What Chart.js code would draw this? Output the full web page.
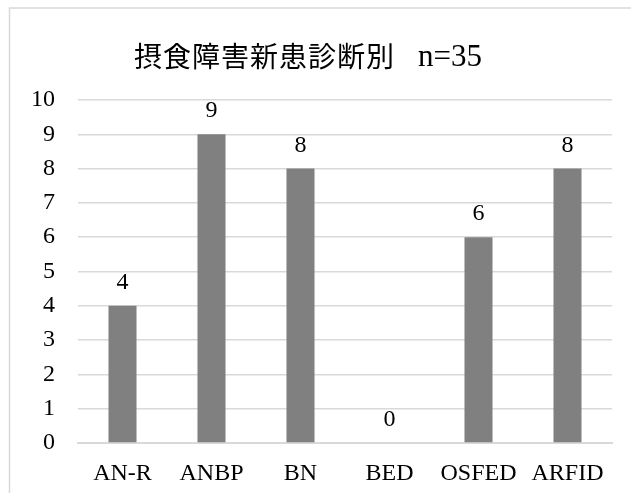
<!DOCTYPE html>
<html>
<head>
<meta charset="utf-8">
<script src="https://cdn.jsdelivr.net/npm/chart.js@4/dist/chart.umd.min.js"></script>
<style>
  html, body { margin: 0; padding: 0; background: #ffffff; }
  #wrap { width: 631px; height: 493px; position: relative; }
</style>
</head>
<body>
<div id="wrap"><canvas id="c" width="631" height="493"></canvas></div>
<script>
// 摂食障害 新患の診断別人数
const categories = ['AN-R', 'ANBP', 'BN', 'BED', 'OSFED', 'ARFID'];
const patients = [4, 9, 8, 0, 6, 8];
const yTicks = [0, 1, 2, 3, 4, 5, 6, 7, 8, 9, 10];
const titleMain = '摂食障害新患診断別';
const titleCount = 'n=35';

const SERIF = "'Liberation Serif', 'Times New Roman', serif";
const CJK = "'Noto Sans CJK JP', sans-serif";

// outer frame, title and value labels
const decorations = {
  id: 'decorations',
  beforeDraw(chart) {
    const ctx = chart.ctx;
    ctx.save();
    ctx.fillStyle = '#ffffff';
    ctx.fillRect(0, 0, chart.width, chart.height);
    ctx.strokeStyle = '#d9d9d9';
    ctx.lineWidth = 1.5;
    ctx.strokeRect(9.5, 8, chart.width + 20, chart.height + 20);
    ctx.restore();
  },
  afterDatasetsDraw(chart) {
    const ctx = chart.ctx;
    ctx.save();
    // title: kanji part, then the count in serif
    ctx.fillStyle = '#000000';
    ctx.textAlign = 'left';
    ctx.textBaseline = 'middle';
    ctx.font = '28px ' + CJK;
    ctx.letterSpacing = '1px';
    ctx.fillText(titleMain, 134, 56);
    ctx.letterSpacing = '0px';
    ctx.font = '31px ' + SERIF;
    ctx.textBaseline = 'alphabetic';
    ctx.fillText(titleCount, 418, 66);
    // value labels
    const meta = chart.getDatasetMeta(0);
    ctx.textAlign = 'center';
    ctx.font = '24px ' + SERIF;
    meta.data.forEach((bar, i) => {
      ctx.fillText(String(patients[i]), bar.x, bar.y - 17);
    });
    ctx.restore();
  }
};

new Chart(document.getElementById('c'), {
  type: 'bar',
  data: {
    labels: categories,
    datasets: [{
      data: patients,
      backgroundColor: '#808080',
      borderWidth: 0,
      categoryPercentage: 1.0,
      barPercentage: 0.315
    }]
  },
  options: {
    responsive: false,
    animation: false,
    layout: { padding: { top: 100, right: 19, left: 0, bottom: 0 } },
    plugins: {
      legend: { display: false },
      title: { display: false },
      tooltip: { enabled: false }
    },
    scales: {
      x: {
        grid: { display: false, drawTicks: false },
        border: { display: true, color: '#d9d9d9', width: 2 },
        ticks: {
          color: '#000000',
          font: { family: SERIF, size: 24 },
          padding: 16,
          maxRotation: 0,
          autoSkip: false
        },
        afterFit(scale) { scale.height = 50; }
      },
      y: {
        min: 0,
        max: 10,
        afterBuildTicks(scale) { scale.ticks = yTicks.map(v => ({ value: v })); },
        grid: { color: '#d9d9d9', lineWidth: 1.5, drawTicks: false },
        border: { display: false },
        ticks: {
          color: '#000000',
          font: { family: SERIF, size: 24 },
          padding: 23
        },
        afterFit(scale) { scale.width = 78; }
      }
    }
  },
  plugins: [decorations]
});
</script>
</body>
</html>
